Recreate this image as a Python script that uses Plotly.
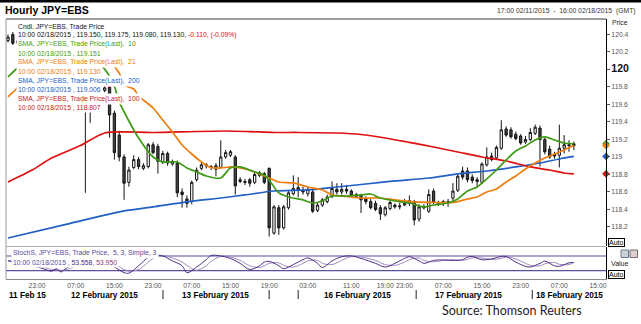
import plotly.graph_objects as go

W, H = 641, 324

# ---- hourly candles, JPY=EBS (bar 0 = 17:00 11 Feb, weekend hours removed) ----
bar_index = list(range(118))
opens = [120.33, 120.40, 120.30, 120.33, 120.30, 120.25, 120.29, 120.27, 120.21, 120.24,
         120.19, 120.14, 120.17, 120.08, 120.02, 119.97, 119.93, 119.84, 119.80, 119.79,
         119.76, 119.80, 119.50, 119.25, 119.00, 118.71, 118.88, 118.97, 118.87, 118.89,
         119.14, 119.12, 118.94, 119.04, 118.92, 118.93, 118.60, 118.52, 118.49, 118.74,
         118.87, 118.90, 118.89, 118.86, 118.88, 119.00, 119.02, 119.00, 118.72, 118.72,
         118.74, 118.71, 118.79, 118.81, 118.87, 118.13, 118.42, 118.19, 118.42, 118.58,
         118.65, 118.62, 118.58, 118.60, 118.39, 118.45, 118.49, 118.55, 118.63, 118.60,
         118.63, 118.61, 118.57, 118.56, 118.52, 118.49, 118.47, 118.42, 118.34, 118.41,
         118.45, 118.43, 118.45, 118.47, 118.49, 118.29, 118.43, 118.38, 118.61, 118.48,
         118.47, 118.49, 118.53, 118.62, 118.84, 118.84, 118.77, 118.74, 118.71, 118.91,
         119.01, 118.99, 119.10, 119.32, 119.31, 119.26, 119.24, 119.17, 119.20, 119.27,
         119.33, 119.20, 119.09, 119.03, 119.02, 119.10, 119.14, 119.150]
highs = [120.40, 120.43, 120.36, 120.38, 120.34, 120.32, 120.35, 120.30, 120.26, 120.28,
         120.23, 120.20, 120.21, 120.12, 120.08, 120.02, 120.00, 119.90, 119.86, 119.82,
         119.82, 119.83, 119.53, 119.30, 119.03, 118.89, 119.02, 119.00, 118.93, 119.16,
         119.17, 119.15, 119.07, 119.06, 118.97, 118.96, 118.64, 118.56, 118.73, 118.88,
         118.93, 118.93, 118.91, 118.93, 119.19, 119.08, 119.08, 119.02, 118.77, 118.75,
         118.76, 118.82, 118.84, 118.83, 118.88, 118.45, 118.45, 118.45, 118.61, 118.79,
         118.77, 118.66, 118.66, 118.63, 118.48, 118.53, 118.57, 118.72, 118.70, 118.70,
         118.68, 118.63, 118.59, 118.58, 118.55, 118.52, 118.50, 118.45, 118.44, 118.50,
         118.47, 118.48, 118.52, 118.56, 118.51, 118.46, 118.46, 118.63, 118.64, 118.50,
         118.51, 118.52, 118.70, 118.80, 118.89, 118.88, 118.80, 118.77, 118.94, 119.11,
         119.05, 119.13, 119.42, 119.35, 119.34, 119.29, 119.26, 119.24, 119.33, 119.37,
         119.36, 119.22, 119.13, 119.06, 119.37, 119.25, 119.19, 119.175]
lows = [120.31, 120.28, 120.24, 120.28, 120.22, 120.20, 120.24, 120.18, 120.15, 120.17,
        120.10, 120.08, 120.05, 119.98, 119.93, 119.88, 118.59, 119.39, 119.74, 119.73,
        119.74, 119.22, 118.97, 118.95, 118.51, 118.66, 118.86, 118.86, 118.85, 118.87,
        119.03, 118.81, 118.92, 118.90, 118.90, 118.54, 118.42, 118.42, 118.46, 118.72,
        118.85, 118.87, 118.85, 118.78, 118.87, 118.98, 119.00, 118.57, 118.70, 118.68,
        118.66, 118.69, 118.77, 118.69, 118.09, 118.11, 118.11, 118.17, 118.40, 118.56,
        118.54, 118.57, 118.55, 118.36, 118.37, 118.43, 118.47, 118.53, 118.57, 118.57,
        118.58, 118.54, 118.53, 118.36, 118.46, 118.40, 118.38, 118.28, 118.32, 118.39,
        118.41, 118.40, 118.44, 118.44, 118.22, 118.26, 118.40, 118.36, 118.46, 118.44,
        118.44, 118.43, 118.50, 118.60, 118.74, 118.71, 118.70, 118.66, 118.69, 118.89,
        118.95, 118.97, 119.08, 119.23, 119.21, 119.19, 119.14, 119.15, 119.18, 119.25,
        118.89, 119.03, 118.98, 118.98, 118.88, 119.04, 119.06, 119.080]
closes = [120.37, 120.30, 120.33, 120.30, 120.25, 120.29, 120.27, 120.21, 120.24, 120.19,
          120.14, 120.17, 120.08, 120.02, 119.97, 119.93, 119.84, 119.80, 119.78, 119.76,
          119.79, 119.48, 119.05, 119.00, 118.70, 118.85, 118.97, 118.89, 118.90, 119.14,
          119.05, 118.95, 119.04, 118.93, 118.95, 118.59, 118.57, 118.47, 118.71, 118.85,
          118.91, 118.91, 118.88, 118.90, 119.00, 119.05, 119.06, 118.67, 118.74, 118.71,
          118.70, 118.80, 118.82, 118.71, 118.19, 118.43, 118.19, 118.43, 118.59, 118.64,
          118.62, 118.60, 118.63, 118.38, 118.45, 118.51, 118.54, 118.64, 118.60, 118.63,
          118.61, 118.56, 118.55, 118.51, 118.49, 118.42, 118.40, 118.35, 118.42, 118.48,
          118.43, 118.44, 118.47, 118.50, 118.28, 118.43, 118.42, 118.57, 118.48, 118.47,
          118.49, 118.48, 118.61, 118.78, 118.77, 118.74, 118.73, 118.72, 118.92, 119.00,
          118.97, 119.11, 119.31, 119.25, 119.23, 119.21, 119.16, 119.20, 119.28, 119.34,
          119.20, 119.06, 119.00, 119.01, 119.10, 119.14, 119.13, 119.130]

# ---- moving averages ----
sma10_idx = [0, 2, 6, 10, 14, 17, 19, 21, 22, 23, 25, 27, 30, 32, 35, 37, 39, 41, 44, 46, 48,
             51, 53, 54, 56, 58, 61, 63, 65, 67, 70, 73, 75, 77, 80, 83, 86, 88, 91, 93, 95,
             97, 99, 101, 103, 105, 107, 109, 111, 113, 115, 117]
sma10_val = [119.914, 120.017, 120.15, 120.25, 120.22, 120.13, 120.06, 119.926, 119.811,
             119.629, 119.411, 119.217, 119.0, 118.943, 118.943, 118.874, 118.829, 118.783,
             118.76, 118.874, 118.886, 118.829, 118.794, 118.737, 118.589, 118.543, 118.509,
             118.474, 118.497, 118.554, 118.554, 118.566, 118.577, 118.531, 118.497, 118.474,
             118.429, 118.451, 118.474, 118.52, 118.611, 118.657, 118.749, 118.851, 118.966,
             119.069, 119.126, 119.194, 119.229, 119.194, 119.16, 119.151]

sma21_idx = [0, 2, 6, 10, 14, 17, 19, 21, 23, 24, 26, 27, 30, 32, 34, 36, 38, 40, 42, 44, 46,
             48, 51, 54, 56, 59, 62, 65, 67, 70, 73, 77, 80, 84, 88, 92, 95, 97, 99, 101, 103,
             105, 107, 109, 111, 113, 115, 117]
sma21_val = [119.686, 119.789, 119.95, 120.08, 120.15, 120.17, 120.143, 120.086, 119.96,
             119.823, 119.777, 119.697, 119.56, 119.423, 119.286, 119.137, 119.034, 118.943,
             118.88, 118.874, 118.886, 118.874, 118.829, 118.76, 118.714, 118.703, 118.657,
             118.623, 118.566, 118.549, 118.531, 118.531, 118.509, 118.486, 118.48, 118.48,
             118.52, 118.543, 118.6, 118.634, 118.714, 118.783, 118.863, 118.931, 118.989,
             119.034, 119.08, 119.130]

sma200_idx = [0, 12, 24, 30, 37, 44, 49, 55, 62, 68, 74, 80, 87, 93, 99, 105, 110, 114, 117]
sma200_val = [118.074, 118.229, 118.383, 118.429, 118.486, 118.531, 118.566, 118.611,
              118.623, 118.657, 118.691, 118.726, 118.76, 118.806, 118.84, 118.886, 118.931,
              118.977, 119.006]

sma100_idx = [0, 5, 9, 15, 20, 30, 45, 50, 55, 60, 68, 73, 78, 83, 88, 93, 98, 103, 108,
              112, 115, 117]
sma100_val = [118.714, 118.85, 118.989, 119.13, 119.274, 119.28, 119.297, 119.29, 119.28,
              119.28, 119.274, 119.257, 119.217, 119.166, 119.114, 119.057, 119.0, 118.954,
              118.886, 118.851, 118.817, 118.807]

# ---- slow stochastic (5, 3, 3) ----
stoch_k_idx = [0, 4, 7, 9, 10, 11, 12, 14, 17, 20, 22, 24, 25, 27, 29, 30, 32, 34, 36, 37,
               39, 41, 42, 44, 46, 48, 50, 52, 53, 54, 56, 57, 59, 61, 62, 64, 65, 67, 69, 71,
               73, 76, 78, 80, 82, 83, 85, 86, 88, 90, 92, 94, 95, 96, 98, 100, 102, 103, 105,
               107, 108, 110, 111, 113, 114, 116, 117]
stoch_k_val = [60, 45, 30, 18, 28, 15, 30, 50, 60, 50, 35, 12, 10, 40, 75, 84, 80, 60, 40,
               12, 35, 65, 82, 80, 70, 50, 25, 40, 55, 58, 40, 28, 45, 65, 72, 50, 33, 60, 77,
               80, 70, 50, 35, 50, 70, 77, 60, 50, 62, 64, 62, 65, 75, 78, 65, 68, 78, 78, 55,
               38, 35, 50, 59, 40, 38, 52, 53.558]
stoch_d_idx = [0, 4, 7, 9, 10, 11, 12, 14, 17, 20, 22, 24, 25, 27, 29, 30, 32, 34, 36, 37,
               38, 39, 41, 42, 44, 46, 48, 50, 52, 53, 54, 56, 57, 59, 61, 62, 64, 65, 67, 69,
               71, 73, 76, 78, 80, 82, 83, 85, 86, 88, 90, 92, 94, 95, 96, 98, 100, 102, 103,
               105, 107, 108, 110, 111, 113, 114, 116, 117]
stoch_d_val = [62, 50, 36, 25, 24, 22, 24, 38, 55, 55, 45, 25, 18, 25, 55, 70, 82, 72, 55,
               42, 28, 22, 40, 58, 78, 76, 62, 40, 33, 40, 50, 52, 42, 35, 50, 60, 62, 50, 45,
               62, 78, 76, 62, 45, 42, 55, 65, 72, 62, 56, 62, 64, 62, 66, 72, 72, 66, 70, 76,
               68, 50, 42, 40, 48, 54, 46, 45, 53.950]

# ---- axis labels ----
hour_ticks = [6, 14, 22, 30, 38, 46, 54, 62, 71, 78, 82, 90, 98, 106, 114, 122]
hour_labels = ["23:00", "07:00", "15:00", "23:00", "07:00", "15:00", "19:00", "03:00",
               "11:00", "19:00", "23:00", "07:00", "15:00", "23:00", "07:00", "15:00"]
day_label_pos = [19.9, 43.0, 72.2, 95.2, 116.0]
day_labels = ["12 February 2015", "13 February 2015", "16 February 2015",
              "17 February 2015", "18 February 2015"]
day_breaks = [32.05, 54.0, 60.0, 84.4, 108.4]
price_ticks = [118.2, 118.4, 118.6, 118.8, 119.0, 119.2, 119.4, 119.6, 119.8, 120.0, 120.2, 120.4]
price_labels = ["118.2", "118.4", "118.6", "118.8", "119", "119.2", "119.4", "119.6",
                "119.8", "<b><span style='font-size:10.5px;color:#111'>120</span></b>",
                "120.2", "120.4"]

GREEN, ORANGE, BLUE, RED = "#3f9a16", "#ee7d0e", "#2160c4", "#e01010"
STOCH_K, STOCH_D, STOCH_BAND = "#4a2d82", "#a08cc0", "#5b4fa0"
FONT = "Liberation Sans"


def px(x):
    return x / W


def py(y):
    return 1 - y / H


fig = go.Figure()

fig.add_trace(go.Candlestick(
    x=bar_index, open=opens, high=highs, low=lows, close=closes,
    increasing=dict(line=dict(color="#151515", width=1), fillcolor="#ffffff"),
    decreasing=dict(line=dict(color="#151515", width=1), fillcolor="#404040"),
    whiskerwidth=0, showlegend=False, hoverinfo="skip", xaxis="x", yaxis="y"))

for idx, val, col in [(sma200_idx, sma200_val, BLUE), (sma100_idx, sma100_val, RED),
                      (sma21_idx, sma21_val, ORANGE), (sma10_idx, sma10_val, GREEN)]:
    fig.add_trace(go.Scatter(x=idx, y=val, mode="lines", showlegend=False, hoverinfo="skip",
                             line=dict(color=col, width=1.7, shape="spline", smoothing=0.7),
                             xaxis="x", yaxis="y"))

# last-value markers sitting on the price axis
x_edge = 123.65
fig.add_trace(go.Scatter(
    x=[x_edge] * 4,
    y=[sma100_val[-1], sma200_val[-1], sma10_val[-1], sma21_val[-1]],
    mode="markers", cliponaxis=False, showlegend=False, hoverinfo="skip",
    marker=dict(symbol="diamond", size=6, color=[RED, BLUE, GREEN, ORANGE]),
    xaxis="x", yaxis="y"))

fig.add_trace(go.Scatter(x=stoch_d_idx, y=stoch_d_val, mode="lines", showlegend=False,
                         hoverinfo="skip", line=dict(color=STOCH_D, width=1, shape="spline"),
                         xaxis="x", yaxis="y2"))
fig.add_trace(go.Scatter(x=stoch_k_idx, y=stoch_k_val, mode="lines", showlegend=False,
                         hoverinfo="skip", line=dict(color=STOCH_K, width=1, shape="spline"),
                         xaxis="x", yaxis="y2"))

x_dom = [px(6), px(606)]
shapes = [
    dict(type="rect", xref="paper", yref="paper", x0=0, x1=1, y0=py(2.5), y1=1,
         fillcolor="#000", line=dict(width=0)),
    dict(type="line", xref="paper", yref="paper", x0=x_dom[0], x1=x_dom[1],
         y0=py(19), y1=py(19), line=dict(color="#3a3a3a", width=1)),
    dict(type="line", xref="paper", yref="paper", x0=x_dom[0], x1=x_dom[0],
         y0=py(19), y1=py(279), line=dict(color="#9a9a9a", width=1)),
    dict(type="line", xref="paper", yref="paper", x0=x_dom[0], x1=x_dom[1],
         y0=py(246.5), y1=py(246.5), line=dict(color="#b0b0b0", width=1)),
]
for lvl in (20, 80):
    shapes.append(dict(type="line", xref="paper", yref="y2", x0=x_dom[0], x1=x_dom[1],
                       y0=lvl, y1=lvl, line=dict(color=STOCH_BAND, width=1.2), layer="below"))
for b in day_breaks:
    shapes.append(dict(type="line", xref="x", yref="paper", x0=b, x1=b,
                       y0=py(299), y1=py(290), line=dict(color="#222", width=1)))
# panel buttons
shapes.append(dict(type="rect", xref="paper", yref="paper", x0=px(621), x1=px(628.5),
                   y0=py(257.5), y1=py(250), fillcolor="#c9d2dc", line=dict(color="#6a7a8a", width=1)))
shapes.append(dict(type="rect", xref="paper", yref="paper", x0=px(630), x1=px(637.5),
                   y0=py(257.5), y1=py(250), fillcolor="#ddd0d0", line=dict(color="#7a6a6a", width=1)))

ann = []


def label(x, y, text, size=7, color="#000", anchor="left", bg=None, bold=False, family=FONT,
          xref="paper", **kw):
    t = f"<b>{text}</b>" if bold else text
    d = dict(x=x, y=y, xref=xref, yref="paper", text=t, showarrow=False, xanchor=anchor,
             yanchor="middle", font=dict(size=size, color=color, family=family), borderpad=1)
    if bg:
        d["bgcolor"] = bg
    d.update(kw)
    ann.append(d)


label(px(3), py(9.5), "Hourly JPY=EBS", size=10.5, bold=True)
label(px(638), py(10.5), "17:00 02/11/2015\u00a0 -\u00a0 16:00 02/18/2015\u00a0 (GMT)", size=6.8,
      color="#333", anchor="right")

chg = closes[-1] - 119.240
legend_rows = [
    ("Cndl, JPY=EBS, Trade Price", "#111"),
    (f"10:00 02/18/2015 , {opens[-1]:.3f}, {highs[-1]:.3f}, {lows[-1]:.3f}, {closes[-1]:.3f}, "
     f"<span style='color:{RED}'>{chg:.3f}, ({chg / 119.240 * 100:.2f}%)</span>", "#111"),
    ("SMA, JPY=EBS, Trade Price(Last),\u00a0 10", GREEN),
    (f"10:00 02/18/2015 , {sma10_val[-1]:.3f}", GREEN),
    ("SMA, JPY=EBS, Trade Price(Last),\u00a0 21", ORANGE),
    (f"10:00 02/18/2015 , {sma21_val[-1]:.3f}", ORANGE),
    ("SMA, JPY=EBS, Trade Price(Last),\u00a0 200", BLUE),
    (f"10:00 02/18/2015 , {sma200_val[-1]:.3f}", BLUE),
    ("SMA, JPY=EBS, Trade Price(Last),\u00a0 100", "#c81818"),
    (f"10:00 02/18/2015 , {sma100_val[-1]:.3f}", "#c81818"),
]
for k, (txt, col) in enumerate(legend_rows):
    label(px(16), py(26 + 9.1 * k), txt, size=6.8, color=col, bg="#ffffff")

label(px(11), py(253), "StochS, JPY=EBS, Trade Price,\u00a0 5, 3, Simple, 3", size=6.8,
      color="#5a4a9a", bg="#ffffff")
label(px(11), py(262), f"10:00 02/18/2015 , <span style='color:{STOCH_K}'>{stoch_k_val[-1]:.3f}</span>, "
      f"<span style='color:#8a3a78'>{stoch_d_val[-1]:.3f}</span>", size=6.8, color="#5a4a9a",
      bg="#ffffff")

label(-0.25, py(295.5), "11 Feb 15", size=8.2, bold=True, xref="x")
for pos, txt in zip(day_label_pos, day_labels):
    label(pos, py(295.5), txt, size=8.2, bold=True, anchor="center", xref="x")

label(px(610), py(22.5), "Price", size=6.8, color="#222")
label(px(609), py(263), "Value", size=7, color="#222")
for yy in (242, 274):
    ann.append(dict(x=px(608), y=py(yy), xref="paper", yref="paper", text="Auto",
                    showarrow=False, xanchor="left", yanchor="middle",
                    font=dict(size=7, color="#000", family=FONT), bgcolor="#ffffff",
                    bordercolor="#000", borderwidth=1, borderpad=0))

label(px(512), py(310), "Source: Thomson Reuters", size=12.5, color="#1c1c2a", anchor="center",
      family="Lato")

fig.update_layout(
    width=W, height=H, margin=dict(l=0, r=0, t=0, b=0),
    paper_bgcolor="#ffffff", plot_bgcolor="#ffffff",
    showlegend=False, shapes=shapes, annotations=ann,
    font=dict(family=FONT, size=7, color="#444"),
    boxgap=0.32,
    xaxis=dict(domain=x_dom, range=[-0.41, x_edge], anchor="y2", showgrid=False,
               zeroline=False, showline=True, linecolor="#8a8a8a", linewidth=1,
               tickmode="array", tickvals=hour_ticks, ticktext=hour_labels, ticks="",
               tickfont=dict(size=6.8, color="#555", family=FONT),
               rangeslider=dict(visible=False), fixedrange=True),
    yaxis=dict(domain=[py(246), py(19)], range=[117.9825, 120.577], anchor="x",
               side="right", showgrid=False, zeroline=False, showline=True,
               linecolor="#000", linewidth=1, ticks="outside", ticklen=3,
               tickcolor="#555", tickmode="array", tickvals=price_ticks,
               ticktext=price_labels, tickfont=dict(size=6.8, color="#555", family=FONT),
               fixedrange=True),
    yaxis2=dict(domain=[py(279), py(247)], range=[-13.9, 116.7], anchor="x",
                side="right", showgrid=False, zeroline=False, showline=True,
                linecolor="#000", linewidth=1, showticklabels=False, ticks="",
                fixedrange=True),
)

fig.write_html("out.html")
